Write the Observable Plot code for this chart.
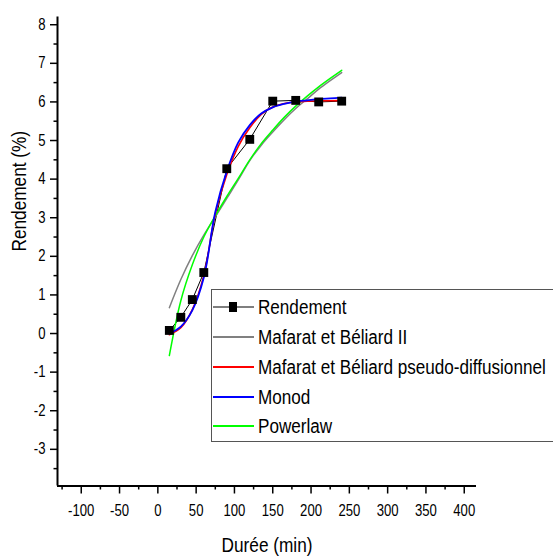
<!DOCTYPE html>
<html><head><meta charset="utf-8">
<script src="https://cdn.jsdelivr.net/npm/d3@7"></script>
<script src="https://cdn.jsdelivr.net/npm/@observablehq/plot@0.6"></script>
<style>
body{margin:0;background:#fff;}
#wrap{position:relative;width:553px;height:557px;overflow:hidden;font-family:"Liberation Sans",Arial,sans-serif;}
#legend{position:absolute;left:211px;top:289px;width:380px;height:153px;border:1.5px solid #555;background:#fff;box-sizing:border-box;}
.row{position:absolute;left:1px;height:24px;display:flex;align-items:center;font-size:20px;color:#000;white-space:nowrap;}
.row svg{margin-right:4px;flex:none;}
.row span{display:inline-block;transform:scaleX(0.855);transform-origin:0 50%;}
</style>
</head><body>
<div id="wrap"><div id="chart"></div><div id="legend"></div></div>
<script>
// Data: experimental yield
const timeMin = [15, 30, 45, 60, 90, 120, 150, 180, 210, 240];
const rendement = [0.08, 0.42, 0.88, 1.58, 4.27, 5.03, 6.02, 6.04, 6.0, 6.02];

// Fitted model curves
const curveX = [15, 30, 45, 60, 75, 90, 105, 120, 135, 150, 165, 180, 195, 210, 225, 240];
const mafaratII = [0.67, 1.4, 2.02, 2.55, 3.02, 3.5, 3.98, 4.48, 4.88, 5.22, 5.54, 5.83, 6.08, 6.33, 6.55, 6.76];
const mafaratPD = [-0.03, 0.15, 0.62, 1.5, 3.1, 4.12, 4.85, 5.33, 5.68, 5.87, 5.96, 6.0, 6.02, 6.03, 6.03, 6.04];
const monod = [0.0, 0.18, 0.6, 1.45, 3.15, 4.2, 4.95, 5.4, 5.7, 5.86, 5.95, 6.01, 6.04, 6.07, 6.09, 6.11];
const powerlaw = [-0.57, 0.85, 1.78, 2.5, 3.05, 3.55, 4.02, 4.5, 4.92, 5.27, 5.6, 5.89, 6.15, 6.39, 6.61, 6.82];

// Legend
const legendLabels = ["Rendement", "Mafarat et Béliard II", "Mafarat et Béliard pseudo-diffusionnel", "Monod", "Powerlaw"];
const legendColors = ["#000000", "#808080", "#ff0000", "#0000ff", "#00ff00"];

// Axes
const xDomain = [-131, 416];
const yDomain = [-3.95, 8.2];
const xMajor = [-100, -50, 0, 50, 100, 150, 200, 250, 300, 350, 400];
const xMinor = [-125, -75, -25, 25, 75, 125, 175, 225, 275, 325, 375];
const yMajor = [-3, -2, -1, 0, 1, 2, 3, 4, 5, 6, 7, 8];
const yMinor = [-3.5, -2.5, -1.5, -0.5, 0.5, 1.5, 2.5, 3.5, 4.5, 5.5, 6.5, 7.5];
const xTitle = "Durée (min)";
const yTitle = "Rendement (%)";

const pts = timeMin.map((t, i) => ({t, v: rendement[i]}));
const curves = [
  {name: legendLabels[1], vals: mafaratII, color: legendColors[1], w: 1.5},
  {name: legendLabels[4], vals: powerlaw, color: legendColors[4], w: 1.5},
  {name: legendLabels[2], vals: mafaratPD, color: legendColors[2], w: 1.6},
  {name: legendLabels[3], vals: monod, color: legendColors[3], w: 1.8}
];
const curveMarks = curves.map(c => Plot.line(curveX.map((x, i) => ({x, y: c.vals[i]})), {
  x: "x", y: "y", stroke: c.color, strokeWidth: c.w, curve: "catmull-rom"
}));

const font = '"Liberation Sans",Arial,sans-serif';
const fmt = d => String(d);
const chart = Plot.plot({
  width: 553, height: 557,
  marginLeft: 57, marginRight: 77, marginTop: 16.5, marginBottom: 71.5,
  x: {domain: xDomain},
  y: {domain: yDomain},
  style: {fontFamily: font, fontSize: "16px", color: "#000", background: "transparent"},
  marks: [
    Plot.axisX(xMinor, {tickSize: 4, tickFormat: () => "", label: null, strokeWidth: 1.5}),
    Plot.axisX(xMajor, {tickSize: 8, tickPadding: 11, tickFormat: fmt, label: null, strokeWidth: 1.5, fontSize: 16}),
    Plot.axisY(yMinor, {tickSize: 3.5, tickFormat: () => "", label: null, strokeWidth: 1.5}),
    Plot.axisY(yMajor, {tickSize: 7, tickPadding: 5, tickFormat: fmt, label: null, strokeWidth: 1.5, fontSize: 16}),
    Plot.ruleY([yDomain[0]], {stroke: "#000", strokeWidth: 2}),
    Plot.ruleX([xDomain[0]], {stroke: "#000", strokeWidth: 2}),
    Plot.text([xTitle], {frameAnchor: "bottom", dy: 59.5, fontSize: 21, lineAnchor: "middle", text: d => d}),
    Plot.text([yTitle], {frameAnchor: "left", dx: -38.5, rotate: -90, fontSize: 21, lineAnchor: "middle", text: d => d}),
    Plot.line(pts, {x: "t", y: "v", stroke: "#000", strokeWidth: 1}),
    ...curveMarks,
    Plot.dot(pts, {x: "t", y: "v", symbol: "square", r: 5, fill: "#000", stroke: "none"})
  ]
});
document.getElementById("chart").appendChild(chart);

// Condense the SVG texts (Arial Narrow look)
chart.querySelectorAll("text").forEach(t => {
  const L = t.getComputedTextLength();
  if (L > 0) {
    t.setAttribute("textLength", (L * 0.82).toFixed(2));
    t.setAttribute("lengthAdjust", "spacingAndGlyphs");
  }
});

// Legend
const leg = document.getElementById("legend");
const rowTops = [5, 35, 65, 95, 124];
legendLabels.forEach((lab, i) => {
  const row = document.createElement("div");
  row.className = "row";
  row.style.top = rowTops[i] + "px";
  const marker = i === 0 ? '<rect x="16" y="7" width="8" height="10" fill="#000"/>' : "";
  row.innerHTML = `<svg width="41" height="24"><line x1="0" x2="41" y1="12" y2="12" stroke="${legendColors[i]}" stroke-width="${i === 0 ? 1.2 : 2}"/>${marker}</svg><span>${lab}</span>`;
  leg.appendChild(row);
});
</script>
</body></html>
